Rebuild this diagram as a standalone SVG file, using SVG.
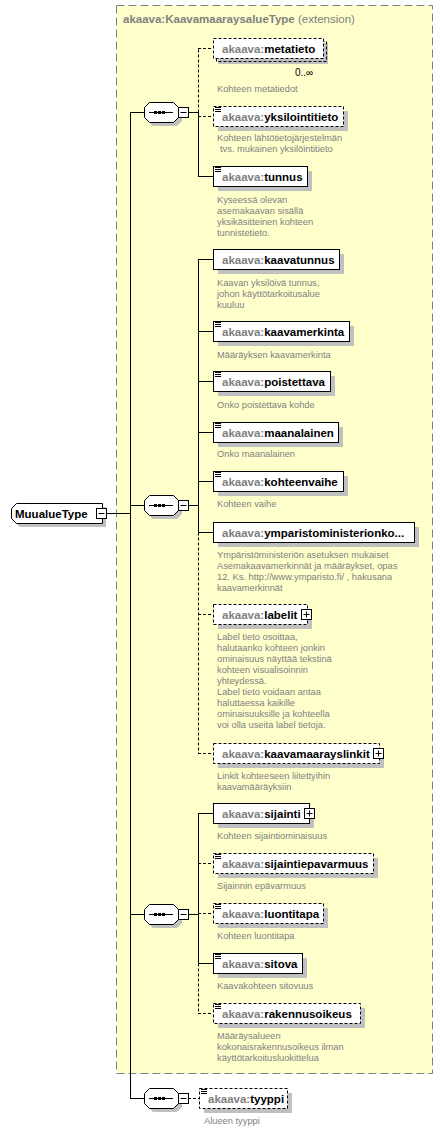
<svg xmlns="http://www.w3.org/2000/svg" width="443" height="1130" viewBox="0 0 443 1130">
<style>
.lbl{font-family:"Liberation Sans",Arial,sans-serif;font-size:11.5px;font-weight:bold;fill:#000}
.ns{fill:#808080}
.ttl{font-family:"Liberation Sans",Arial,sans-serif;font-size:11.5px;fill:#808080}
.desc{font-family:"Liberation Sans",Arial,sans-serif;font-size:9.3px;fill:#808080}
.occ{font-family:"Liberation Sans",Arial,sans-serif;font-size:10px;fill:#000}
.box{fill:#fff;stroke:#000;stroke-width:1}
.opt{stroke-dasharray:3,2}
.sh{fill:#c0c0c0}
.ln{stroke:#000;stroke-width:1;fill:none}
.dl{stroke-dasharray:3,2}
.dot{fill:#000}
</style>
<defs>
<g id="ico"><path class="ln" d="M2 1.5h6M2 3.5h6M2 5.5h6"/></g>
<g id="plus"><rect class="box" x="0.5" y="0.5" width="10" height="10"/><path class="ln" d="M2.5 5.5h6M5.5 2.5v6"/></g>
<g id="minus"><rect class="box" x="0.5" y="0.5" width="10" height="10"/><path class="ln" d="M2.5 5.5h6"/></g>
<g id="seq">
<polygon class="sh" points="153,-6 177,-6 182,-1 182,9 177,14 153,14 148,9 148,-1"/>
<polygon class="box" points="149.5,-9.5 173.5,-9.5 178.5,-4.5 178.5,5.5 173.5,10.5 149.5,10.5 144.5,5.5 144.5,-4.5"/>
<path class="ln" d="M149 0.5h24"/>
<rect class="dot" x="154" y="-1" width="3" height="3"/>
<rect class="dot" x="158" y="-1" width="3" height="3"/>
<rect class="dot" x="162" y="-1" width="3" height="3"/>
<use href="#minus" x="178" y="-5"/>
</g>
</defs>

<g id="extension">
<rect x="116.5" y="5.5" width="316" height="1068" fill="#ffffcc" stroke="#808080" stroke-dasharray="8,4"/>
<text class="ttl" x="123" y="23"><tspan font-weight="bold">akaava:KaavamaaraysalueType</tspan> (extension)</text>
</g>

<g id="connectors">
<path class="ln" d="M107 513.5h23.5M130.5 112v986M130 112.5h14M130 505.5h14M130 914.5h14M130 1098.5h14"/>
<path class="ln" d="M188 112.5h10.5M198.5 112.5v64M198 176.5h15"/>
<path class="ln dl" d="M198.5 112.5v-64M198 48.5h15M198 116.5h15"/>
<path class="ln" d="M188 505.5h10.5M198.5 259v273M198 259.5h15M198 331.5h15M198 381.5h15M198 432.5h15M198 481.5h15M198 532.5h15"/>
<path class="ln dl" d="M198.5 532.5v221M198 614.5h15M198 753.5h15"/>
<path class="ln" d="M188 914.5h10.5M198.5 813v150M198 813.5h15M198 963.5h15"/>
<path class="ln dl" d="M198.5 963.5v50M198 863.5h15M198 913.5h15M198 1013.5h15"/>
<path class="ln dl" d="M188 1098.5h11"/>
</g>

<g id="MuualueType">
<polygon class="sh" points="20,507 106,507 106,527 20,527 15,522 15,512"/>
<polygon class="box" points="16.5,503.5 102.5,503.5 102.5,523.5 16.5,523.5 11.5,518.5 11.5,508.5"/>
<text class="lbl" x="15" y="517.5">MuualueType</text>
<use href="#minus" x="96" y="508"/>
</g>

<g id="seq1"><use href="#seq" y="112"/></g>
<g id="seq2"><use href="#seq" y="505"/></g>
<g id="seq3"><use href="#seq" y="914"/></g>
<g id="seq4"><use href="#seq" y="1098"/></g>

<g id="metatieto">
<rect class="sh" x="218" y="43" width="110" height="21"/>
<rect class="ln opt" x="216.5" y="41.5" width="110" height="20"/>
<rect class="box opt" x="213.5" y="38.5" width="110" height="20"/>
<text class="lbl" x="222" y="52.5"><tspan class="ns">akaava:</tspan>metatieto</text>
<text class="occ" x="295" y="76">0..∞</text>
<text class="desc" x="217" y="91.5">Kohteen metatiedot</text>
</g>

<g id="yksilointitieto">
<rect class="sh" x="218" y="111" width="130" height="20"/>
<rect class="box opt" x="213.5" y="106.5" width="130" height="20"/>
<use href="#ico" x="213" y="106"/>
<text class="lbl" x="222" y="120.5"><tspan class="ns">akaava:</tspan>yksilointitieto</text>
<text class="desc" x="217" y="140.5">Kohteen lähtötietojärjestelmän</text>
<text class="desc" x="220" y="151.5">tvs. mukainen yksilöintitieto</text>
</g>

<g id="tunnus">
<rect class="sh" x="218" y="171" width="94" height="20"/>
<rect class="box" x="213.5" y="166.5" width="94" height="20"/>
<use href="#ico" x="213" y="166"/>
<text class="lbl" x="222" y="180.5"><tspan class="ns">akaava:</tspan>tunnus</text>
<text class="desc" x="217" y="203">Kyseessä olevan</text>
<text class="desc" x="217" y="214">asemakaavan sisällä</text>
<text class="desc" x="217" y="225">yksikäsitteinen kohteen</text>
<text class="desc" x="217" y="236">tunnistetieto.</text>
</g>

<g id="kaavatunnus">
<rect class="sh" x="218" y="254" width="126" height="20"/>
<rect class="box" x="213.5" y="249.5" width="126" height="20"/>
<text class="lbl" x="222" y="263.5"><tspan class="ns">akaava:</tspan>kaavatunnus</text>
<text class="desc" x="217" y="286">Kaavan yksilöivä tunnus,</text>
<text class="desc" x="217" y="297">johon käyttötarkoitusalue</text>
<text class="desc" x="217" y="308">kuuluu</text>
</g>

<g id="kaavamerkinta">
<rect class="sh" x="218" y="326" width="136" height="20"/>
<rect class="box" x="213.5" y="321.5" width="136" height="20"/>
<use href="#ico" x="213" y="321"/>
<text class="lbl" x="222" y="335.5"><tspan class="ns">akaava:</tspan>kaavamerkinta</text>
<text class="desc" x="217" y="357.5">Määräyksen kaavamerkinta</text>
</g>

<g id="poistettava">
<rect class="sh" x="218" y="376" width="117" height="20"/>
<rect class="box" x="213.5" y="371.5" width="117" height="20"/>
<use href="#ico" x="213" y="371"/>
<text class="lbl" x="222" y="385.5"><tspan class="ns">akaava:</tspan>poistettava</text>
<text class="desc" x="217" y="407.5">Onko poistettava kohde</text>
</g>

<g id="maanalainen">
<rect class="sh" x="218" y="427" width="125" height="20"/>
<rect class="box" x="213.5" y="422.5" width="125" height="20"/>
<use href="#ico" x="213" y="422"/>
<text class="lbl" x="222" y="436.5"><tspan class="ns">akaava:</tspan>maanalainen</text>
<text class="desc" x="217" y="457">Onko maanalainen</text>
</g>

<g id="kohteenvaihe">
<rect class="sh" x="218" y="476" width="130" height="20"/>
<rect class="box" x="213.5" y="471.5" width="130" height="20"/>
<use href="#ico" x="213" y="471"/>
<text class="lbl" x="222" y="485.5"><tspan class="ns">akaava:</tspan>kohteenvaihe</text>
<text class="desc" x="217" y="507">Kohteen vaihe</text>
</g>

<g id="ymparistoministerionko">
<rect class="sh" x="218" y="527" width="201" height="20"/>
<rect class="box" x="213.5" y="522.5" width="201" height="20"/>
<text class="lbl" x="222" y="536.5"><tspan class="ns">akaava:</tspan>ymparistoministerionko...</text>
<text class="desc" x="217" y="557.5">Ympäristöministeriön asetuksen mukaiset</text>
<text class="desc" x="217" y="568.5">Asemakaavamerkinnät ja määräykset, opas</text>
<text class="desc" x="217" y="579.5">12. Ks. http://www.ymparisto.fi/ , hakusana</text>
<text class="desc" x="217" y="590.5">kaavamerkinnät</text>
</g>

<g id="labelit">
<rect class="sh" x="218" y="609" width="94" height="20"/>
<rect class="box opt" x="213.5" y="604.5" width="94" height="20"/>
<text class="lbl" x="222" y="618.5"><tspan class="ns">akaava:</tspan>labelit</text>
<use href="#plus" x="301" y="609"/>
<text class="desc" x="217" y="640">Label tieto osoittaa,</text>
<text class="desc" x="217" y="651">halutaanko kohteen jonkin</text>
<text class="desc" x="217" y="662">ominaisuus näyttää tekstinä</text>
<text class="desc" x="217" y="673">kohteen visualisoinnin</text>
<text class="desc" x="217" y="684">yhteydessä.</text>
<text class="desc" x="217" y="695">Label tieto voidaan antaa</text>
<text class="desc" x="217" y="706">haluttaessa kaikille</text>
<text class="desc" x="217" y="717">ominaisuuksille ja kohteella</text>
<text class="desc" x="217" y="728">voi olla useita label tietoja.</text>
</g>

<g id="kaavamaarayslinkit">
<rect class="sh" x="218" y="748" width="166" height="20"/>
<rect class="box opt" x="213.5" y="743.5" width="166" height="20"/>
<text class="lbl" x="222" y="757.5"><tspan class="ns">akaava:</tspan>kaavamaarayslinkit</text>
<use href="#plus" x="373" y="748"/>
<text class="desc" x="217" y="778.5">Linkit kohteeseen liitettyihin</text>
<text class="desc" x="217" y="789.5">kaavamääräyksiin</text>
</g>

<g id="sijainti">
<rect class="sh" x="218" y="808" width="96" height="20"/>
<rect class="box" x="213.5" y="803.5" width="96" height="20"/>
<text class="lbl" x="222" y="817.5"><tspan class="ns">akaava:</tspan>sijainti</text>
<use href="#plus" x="304" y="808"/>
<text class="desc" x="217" y="839">Kohteen sijaintiominaisuus</text>
</g>

<g id="sijaintiepavarmuus">
<rect class="sh" x="218" y="858" width="160" height="20"/>
<rect class="box opt" x="213.5" y="853.5" width="160" height="20"/>
<use href="#ico" x="213" y="853"/>
<text class="lbl" x="222" y="867.5"><tspan class="ns">akaava:</tspan>sijaintiepavarmuus</text>
<text class="desc" x="217" y="889">Sijainnin epävarmuus</text>
</g>

<g id="luontitapa">
<rect class="sh" x="218" y="908" width="110" height="20"/>
<rect class="box opt" x="213.5" y="903.5" width="110" height="20"/>
<use href="#ico" x="213" y="903"/>
<text class="lbl" x="222" y="917.5"><tspan class="ns">akaava:</tspan>luontitapa</text>
<text class="desc" x="217" y="939">Kohteen luontitapa</text>
</g>

<g id="sitova">
<rect class="sh" x="218" y="958" width="89" height="20"/>
<rect class="box" x="213.5" y="953.5" width="89" height="20"/>
<use href="#ico" x="213" y="953"/>
<text class="lbl" x="222" y="967.5"><tspan class="ns">akaava:</tspan>sitova</text>
<text class="desc" x="217" y="989">Kaavakohteen sitovuus</text>
</g>

<g id="rakennusoikeus">
<rect class="sh" x="218" y="1008" width="147" height="20"/>
<rect class="box opt" x="213.5" y="1003.5" width="147" height="20"/>
<use href="#ico" x="213" y="1003"/>
<text class="lbl" x="222" y="1017.5"><tspan class="ns">akaava:</tspan>rakennusoikeus</text>
<text class="desc" x="217" y="1039">Määräysalueen</text>
<text class="desc" x="217" y="1050">kokonaisrakennusoikeus ilman</text>
<text class="desc" x="217" y="1061">käyttötarkoitusluokittelua</text>
</g>

<g id="tyyppi">
<rect class="sh" x="204" y="1093" width="88" height="20"/>
<rect class="box opt" x="199.5" y="1088.5" width="88" height="20"/>
<use href="#ico" x="199" y="1088"/>
<text class="lbl" x="208" y="1102.5"><tspan class="ns">akaava:</tspan>tyyppi</text>
<text class="desc" x="204" y="1123.5">Alueen tyyppi</text>
</g>
</svg>
